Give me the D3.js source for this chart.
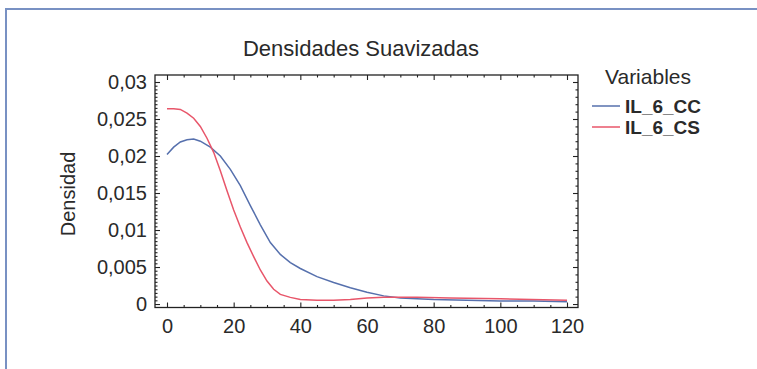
<!DOCTYPE html>
<html>
<head>
<meta charset="utf-8">
<script src="https://cdn.jsdelivr.net/npm/d3@7"></script>
<style>
  body { margin: 0; background: #fff; }
  text { font-family: "Liberation Sans", Arial, sans-serif; fill: #2a2a2a; }
</style>
</head>
<body>
<div id="chart"></div>
<script>
// smoothed densities
let xCC = [0, 2, 4, 6, 8, 10, 13, 16, 19, 22, 25, 28, 31, 34, 37, 40, 45, 50, 55, 60, 65, 70, 80, 90, 100, 110, 120]
let yCC = [0.0202, 0.0212, 0.0219, 0.0222, 0.0223, 0.0220, 0.0212, 0.0200, 0.0182, 0.0160, 0.0133, 0.0107, 0.0083, 0.0067, 0.0056, 0.0048, 0.0037, 0.0029, 0.0022, 0.0016, 0.0011, 0.0008, 0.0006, 0.0005, 0.0004, 0.0004, 0.0003]

let xCS = [0, 2, 4, 6, 8, 10, 12, 14, 16, 18, 20, 22, 24, 26, 28, 30, 32, 34, 37, 40, 45, 50, 55, 60, 65, 75, 85, 100, 120]
let yCS = [0.0264, 0.0264, 0.0263, 0.0258, 0.0251, 0.0240, 0.0224, 0.0205, 0.0180, 0.0153, 0.0127, 0.0104, 0.0083, 0.0064, 0.0046, 0.0031, 0.0020, 0.0013, 0.0009, 0.0006, 0.0005, 0.0005, 0.0006, 0.0008, 0.0009, 0.0009, 0.0008, 0.0007, 0.0005]

let seriesNames = ['IL_6_CC', 'IL_6_CS']
let seriesColors = ['#5670ad', '#e8566a']

let xTicks = [0, 20, 40, 60, 80, 100, 120]
let yTicks = [0, 0.005, 0.01, 0.015, 0.02, 0.025, 0.03]

let width = 757
let height = 369
let plot = { left: 155, right: 578, top: 75, bottom: 307.5 }

let svg = d3
  .select('#chart')
  .append('svg')
  .attr('width', width)
  .attr('height', height)

// frame round the figure (left and top only)
svg.append('path')
  .attr('d', 'M6,369 V9 H757')
  .attr('fill', 'none')
  .attr('stroke', '#7891c3')
  .attr('stroke-width', 2)

let x = d3.scaleLinear().domain([-3.6, 123.3]).range([plot.left, plot.right])
let y = d3.scaleLinear().domain([-0.00047, 0.030946]).range([plot.bottom, plot.top])

let fmt = d => String(d).replace('.', ',')

let xMinor = d3.range(0, 121, 5).filter(v => v % 20 !== 0)
let yMinorL = d3.range(0, 61).map(i => i / 2000).filter(v => Math.round(v * 2000) % 10 !== 0)
let yMinorR = d3.range(0, 31).map(i => i / 1000).filter(v => Math.round(v * 1000) % 5 !== 0)

function styleAxis(g) {
  g.select('.domain').remove()
  g.selectAll('line').attr('stroke', '#222').attr('stroke-width', 1.1)
  g.selectAll('text').attr('fill', '#2a2a2a').style('font-size', '20px').style('font-family', '"Liberation Sans", Arial, sans-serif')
}

// bottom
svg.append('g')
  .attr('transform', `translate(0,${plot.bottom})`)
  .call(d3.axisBottom(x).tickValues(xTicks).tickFormat(fmt).tickSize(-5).tickPadding(11))
  .call(styleAxis)
svg.append('g')
  .attr('transform', `translate(0,${plot.bottom})`)
  .call(d3.axisBottom(x).tickValues(xMinor).tickFormat('').tickSize(-2.5))
  .call(styleAxis)
// top
svg.append('g')
  .attr('transform', `translate(0,${plot.top})`)
  .call(d3.axisTop(x).tickValues(xTicks).tickFormat('').tickSize(-5))
  .call(styleAxis)
svg.append('g')
  .attr('transform', `translate(0,${plot.top})`)
  .call(d3.axisTop(x).tickValues(xMinor).tickFormat('').tickSize(-2.5))
  .call(styleAxis)
// left
svg.append('g')
  .attr('transform', `translate(${plot.left},0)`)
  .call(d3.axisLeft(y).tickValues(yTicks).tickFormat(fmt).tickSize(-5).tickPadding(8))
  .call(styleAxis)
svg.append('g')
  .attr('transform', `translate(${plot.left},0)`)
  .call(d3.axisLeft(y).tickValues(yMinorL).tickFormat('').tickSize(-2.5))
  .call(styleAxis)
// right
svg.append('g')
  .attr('transform', `translate(${plot.right},0)`)
  .call(d3.axisRight(y).tickValues(yTicks).tickFormat('').tickSize(-5))
  .call(styleAxis)
svg.append('g')
  .attr('transform', `translate(${plot.right},0)`)
  .call(d3.axisRight(y).tickValues(yMinorR).tickFormat('').tickSize(-2.5))
  .call(styleAxis)

// box
svg.append('rect')
  .attr('x', plot.left)
  .attr('y', plot.top)
  .attr('width', plot.right - plot.left)
  .attr('height', plot.bottom - plot.top)
  .attr('fill', 'none')
  .attr('stroke', '#222')
  .attr('stroke-width', 1.3)

let line = d3.line()
  .x(d => x(d[0]))
  .y(d => y(d[1]))

let series = [
  d3.zip(xCC, yCC),
  d3.zip(xCS, yCS)
]

svg.selectAll('.curve')
  .data(series)
  .enter()
  .append('path')
  .attr('class', 'curve')
  .attr('d', line)
  .attr('fill', 'none')
  .attr('stroke', (d, i) => seriesColors[i])
  .attr('stroke-width', 1.5)

// title + axis label
svg.append('text')
  .attr('x', 361)
  .attr('y', 56)
  .attr('text-anchor', 'middle')
  .style('font-size', '22px')
  .text('Densidades Suavizadas')

svg.append('text')
  .attr('transform', 'translate(75,194) rotate(-90)')
  .attr('text-anchor', 'middle')
  .style('font-size', '20px')
  .text('Densidad')

// legend
svg.append('text')
  .attr('x', 605)
  .attr('y', 84)
  .style('font-size', '21px')
  .text('Variables')

let legend = svg.selectAll('.legend')
  .data(seriesNames)
  .enter()
  .append('g')
  .attr('class', 'legend')
  .attr('transform', (d, i) => `translate(592,${106 + i * 21})`)

legend.append('line')
  .attr('x1', 0)
  .attr('x2', 28)
  .attr('stroke', (d, i) => seriesColors[i])
  .attr('stroke-width', 1.5)

legend.append('text')
  .attr('x', 33)
  .attr('y', 7)
  .style('font-size', '19px')
  .style('font-weight', 'bold')
  .text(d => d)
</script>
</body>
</html>
